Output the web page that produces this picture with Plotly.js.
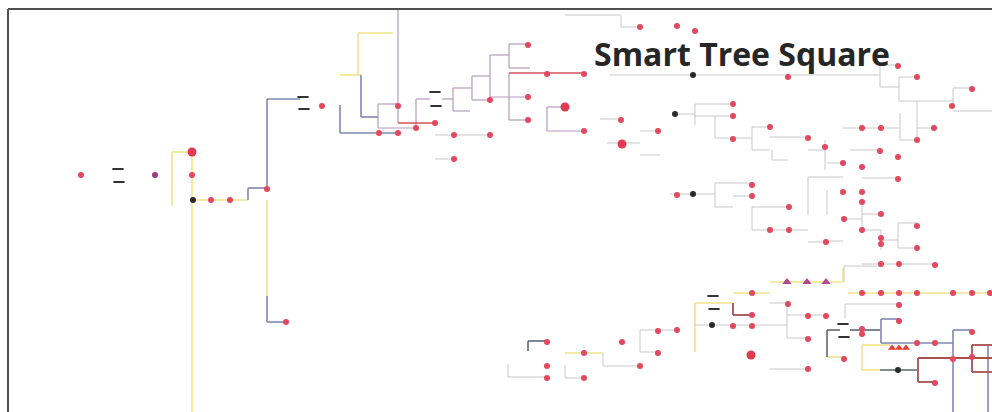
<!DOCTYPE html>
<html>
<head>
<meta charset="utf-8">
<script src="https://cdn.plot.ly/plotly-3.0.1.min.js"></script>
<style>html,body{margin:0;padding:0;background:#fff;}#chart{width:992px;height:412px;}</style>
</head>
<body>
<div id="chart"></div>
<script>
// Tree edges as [x1, y1, x2, y2] in the picture's coordinate space
const blueEdges = [
  [267,99,300,99],[267,99,267,188],[248,188,267,188],[248,188,248,200],
  [267,296,267,322],[267,322,286,322],
  [361,75,361,117],[361,117,378,117],[340,105,340,133],[340,133,398,133],
  [953,330,953,412],[953,330,972,330],[988,345,988,412],
  [881,319,881,343],[881,319,899,319],[881,343,953,343]
];
const yellowEdges = [
  [172,152,192,152],[172,152,172,206],[192,152,192,412],[192,200,248,200],
  [267,200,267,296],[358,33,393,33],[358,33,358,75],[340,75,361,75],
  [770,282,843,282],[843,268,843,282],[848,293,992,293],[733,293,770,293],
  [695,303,733,303],[695,303,695,352],[827,357,843,357],
  [862,345,890,345],[862,345,862,370],[862,370,880,370],[565,353,603,353]
];
const pinkEdges = [
  [398,9,398,123],[378,104,378,128],[378,104,398,104],[378,128,416,128],
  [416,99,416,128],[416,99,430,99],[442,99,453,99],[453,88,453,111],
  [453,88,472,88],[453,111,470,111],[472,76,472,100],[472,76,490,76],
  [472,100,490,100],[490,55,490,97],[490,55,509,55],[490,97,528,97],
  [509,44,509,68],[509,44,528,44],[509,68,530,68],[509,73,509,120],
  [509,120,528,120],[547,107,547,131],[547,107,565,107],[547,131,584,131]
];
const redEdges = [
  [398,123,435,123],[509,73,584,73]
];
const grayEdges = [
  [435,135,490,135],[435,159,454,159],[600,119,621,119],[607,143,640,143],
  [640,131,660,131],[640,155,660,155],[565,15,620,15],[621,15,621,27],[621,27,640,27],
  [610,75,880,75],[880,65,880,87],[880,65,898,65],[880,87,899,87],[899,77,899,101],
  [899,77,917,77],[899,101,953,101],[953,88,953,106],[953,88,972,88],[953,111,992,111],
  [917,101,917,140],[843,128,900,128],[900,113,900,140],[900,140,917,140],[917,128,934,128],
  [675,114,695,114],[695,104,695,125],[695,104,733,104],[695,116,733,116],
  [715,116,715,138],[715,138,752,138],[752,127,752,150],[752,127,770,127],[752,150,770,150],
  [770,137,808,137],[772,150,772,160],[772,160,788,160],[808,150,826,150],
  [825,140,825,170],[827,163,843,163],[808,177,843,177],[808,177,808,215],
  [862,178,898,178],[850,150,880,150],
  [670,194,715,194],[715,183,715,207],[715,183,752,183],[715,207,733,207],
  [733,196,752,196],[752,207,752,230],[752,207,788,207],[752,230,808,230],
  [808,242,826,242],[827,190,827,215],[826,241,843,241],[843,219,862,219],
  [862,205,862,233],[862,214,881,214],[862,230,881,230],[881,230,881,250],
  [881,240,898,240],[898,223,898,248],[898,223,917,223],[898,248,917,248],
  [862,264,935,264],[844,266,844,282],[844,266,880,266],
  [845,304,900,304],[845,304,845,318],[695,325,787,325],[787,303,787,338],
  [770,303,787,303],[787,315,826,315],[787,338,808,338],[770,369,808,369],
  [508,364,508,377],[508,377,546,377],[565,365,565,378],[565,378,584,378],
  [603,353,603,366],[603,366,640,366],[640,330,640,352],[640,352,658,352],
  [640,330,677,330]
];
const darkEdges = [
  [528,341,528,351],[528,341,546,341],[827,330,827,357],[827,330,840,330],
  [850,330,880,330],[880,370,917,370]
];
const darkRedEdges = [
  [733,303,733,315],[733,315,752,315],[918,358,918,382],[918,358,992,358],
  [918,382,935,382],[972,345,972,372],[972,345,992,345],[972,372,992,372]
];

// Nodes
const redDots = [
  [81,175],[192,175],[211,200],[230,200],[267,189],[286,322],[322,106],
  [398,106],[435,123],[379,133],[398,133],[416,128],[490,100],[528,45],[547,74],
  [584,74],[528,97],[528,120],[584,131],[454,135],[490,135],[454,159],[621,120],
  [658,131],[640,27],[677,26],[695,31],
  [788,77],[898,66],[917,77],[972,89],[952,106],[862,128],[881,128],[934,128],
  [917,140],[825,147],[880,151],[898,157],[843,163],[862,167],
  [733,104],[733,116],[733,139],[770,127],[808,138],
  [898,179],[843,192],[862,192],[862,202],[677,195],[752,185],[752,196],[789,207],
  [770,230],[789,230],[826,242],[881,214],[844,219],[862,230],[881,238],[881,244],
  [917,226],[917,248],[881,264],[899,264],[935,265],
  [862,293],[881,293],[899,293],[917,293],[953,293],[972,293],[990,293],[899,305],
  [752,293],[752,315],[733,326],[752,326],[788,304],[808,316],[826,316],[808,339],
  [808,369],[844,359],[862,329],[862,334],[899,321],[917,343],[935,343],[953,359],
  [972,357],[935,383],[972,332],
  [547,342],[547,366],[547,378],[584,353],[584,378],[622,342],[640,366],[658,353],
  [658,331],[677,330]
];
const bigRedDots = [[192,152],[565,107],[622,144],[751,355]];
const purpleDots = [[155,175]];
const blackDots = [[193,200],[693,75],[675,114],[693,194],[712,325],[898,370]];
const purpleTriangles = [[787,282],[807,282],[826,282]];
const redTriangles = [[892,348],[899,348],[906,348]];
const labelMarks = [[118,169],[119,182],[303,97],[304,109],[435,92],[436,106],[713,296],[714,309],[843,324],[844,337]];
const titleText = "Smart Tree Square";

function edgeTrace(edges, color, width) {
  const x = [], y = [];
  edges.forEach(e => { x.push(e[0], e[2], null); y.push(e[1], e[3], null); });
  return {type:'scatter', mode:'lines', x:x, y:y, hoverinfo:'skip',
          line:{color:color, width:width}, showlegend:false};
}
function nodeTrace(pts, color, size, symbol) {
  return {type:'scatter', mode:'markers',
    x: pts.map(p=>p[0]), y: pts.map(p=>p[1]), showlegend:false, hoverinfo:'skip',
    marker:{color:color, size:size, symbol:symbol||'circle', line:{width:0}}};
}

const traces = [
  edgeTrace(yellowEdges, '#f2e488', 1.6),
  edgeTrace(grayEdges, '#c8c8cc', 1),
  edgeTrace(pinkEdges, '#b69ac0', 1.2),
  edgeTrace(blueEdges, '#8088b6', 1.6),
  edgeTrace(redEdges, '#d6505e', 1.6),
  edgeTrace(darkEdges, '#5c6670', 1.6),
  edgeTrace(darkRedEdges, '#a85050', 1.8),
  nodeTrace(redDots, '#e2485e', 6),
  nodeTrace(bigRedDots, '#e23a50', 9),
  nodeTrace(purpleDots, '#9a3c8c', 6),
  nodeTrace(blackDots, '#2a2a2a', 6),
  nodeTrace(purpleTriangles, '#b4468c', 8, 'triangle-up'),
  nodeTrace(redTriangles, '#e83a2e', 7, 'triangle-up'),
  {type:'scatter', mode:'markers', x: labelMarks.map(p=>p[0]), y: labelMarks.map(p=>p[1]),
   showlegend:false, hoverinfo:'skip',
   marker:{symbol:'line-ew-open', size:8, color:'#333333', line:{color:'#333333', width:2}}}
];

const layout = {
  width: 992, height: 412,
  margin: {l:0, r:0, t:0, b:0},
  paper_bgcolor: '#ffffff', plot_bgcolor: '#ffffff',
  showlegend: false,
  xaxis: {range:[0,992], visible:false, fixedrange:true},
  yaxis: {range:[412,0], visible:false, fixedrange:true},
  title: {text: titleText, x: 742/992, xanchor:'center', xref:'paper',
          y: 1 - 55/412, yanchor:'middle', yref:'paper',
          font:{family:'Open Sans, sans-serif', size:32, color:'#262626', weight:700}},
  shapes: [
    {type:'line', xref:'x', yref:'y', x0:8, y0:9, x1:992, y1:9, line:{color:'#505050', width:2}},
    {type:'line', xref:'x', yref:'y', x0:8, y0:9, x1:8, y1:412, line:{color:'#505050', width:2}}
  ]
};

Plotly.newPlot('chart', traces, layout, {displayModeBar:false, staticPlot:true});
</script>
</body>
</html>
